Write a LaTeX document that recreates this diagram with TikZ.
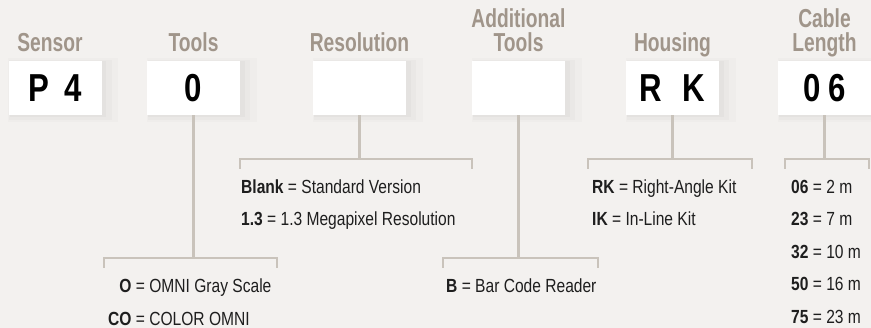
\documentclass[tikz,border=0pt]{standalone}
\usepackage{fontspec}
\newfontfamily\optfont{Liberation Sans}[FakeStretch=0.82]
\newfontfamily\headfont{Liberation Sans}[FakeStretch=0.74]
\newfontfamily\codefont{Liberation Sans}[FakeStretch=0.8]
\usetikzlibrary{positioning,shadows}
\definecolor{bggray}{HTML}{F3F1EF}
\definecolor{headgray}{HTML}{A0958A}
\definecolor{linegray}{HTML}{C9C3BB}
\definecolor{optblack}{HTML}{1E1E1E}
\tikzset{
  softshadow/.style={
    general shadow={fill=black,opacity=.025,shadow xshift=3pt,shadow yshift=-1pt,shadow scale=1.04},
    general shadow={fill=black,opacity=.02,shadow xshift=5pt,shadow yshift=-2pt,shadow scale=1.1},
    general shadow={fill=black,opacity=.015,shadow xshift=7pt,shadow yshift=-2pt,shadow scale=1.18}},
  codebox/.style={fill=white,minimum width=93pt,minimum height=54pt,inner sep=0pt,
    font=\codefont\bfseries\fontsize{39}{39}\selectfont,softshadow},
  head/.style={anchor=base,align=center,inner sep=0pt,text=headgray,
    font=\headfont\bfseries\fontsize{26}{24}\selectfont},
  link/.style={draw=linegray,line width=2.2pt},
  opt/.style={anchor=base west,inner sep=0pt,text=optblack,
    font=\optfont\fontsize{19}{23}\selectfont}
}

\begin{document}
\begin{tikzpicture}[x=1pt,y=-1pt]
\fill[bggray] (0,0) rectangle (871,328);
\useasboundingbox (0,0) rectangle (871,328);
% code boxes
\node[codebox] (sensor) at (55,88) {P\kern15pt 4};
\node[codebox] (tools) at (193.5,88) {0};
\node[codebox] (resolution) at (359.5,88) {};
\node[codebox] (addtools) at (518.5,88) {};
\node[codebox] (housing) at (672.5,88) {R\kern20pt K};
\node[codebox] (cable) at (824.5,88) {0\kern8pt 6};
% headings
\node[head,xshift=-5pt] (sensorlbl) at ([yshift=9pt]sensor.north) {Sensor};
\node[head] (toolslbl) at ([yshift=9pt]tools.north) {Tools};
\node[head] (resolutionlbl) at ([yshift=9pt]resolution.north) {Resolution};
\node[head] (addtoolslbl) at ([yshift=9pt]addtools.north) {Additional\\Tools};
\node[head] (housinglbl) at ([yshift=9pt]housing.north) {Housing};
\node[head] (cablelbl) at ([yshift=9pt]cable.north) {Cable\\Length};
% brackets
\coordinate (toolsL) at (104,258);
\coordinate (toolsR) at (277,258);
\coordinate (resolutionL) at (240,159);
\coordinate (resolutionR) at (472,159);
\coordinate (addtoolsL) at (443,258);
\coordinate (addtoolsR) at (598,258);
\coordinate (housingL) at (588,159);
\coordinate (housingR) at (752,159);
\coordinate (cableL) at (785,159);
\coordinate (cableR) at (869,159);
\draw[link] (tools.south) -- (tools.south |- toolsL);
\draw[link] ([yshift=-10pt]toolsL) -- (toolsL) -- (toolsR) -- ([yshift=-10pt]toolsR);
\draw[link] (resolution.south) -- (resolution.south |- resolutionL);
\draw[link] ([yshift=-10pt]resolutionL) -- (resolutionL) -- (resolutionR) -- ([yshift=-10pt]resolutionR);
\draw[link] (addtools.south) -- (addtools.south |- addtoolsL);
\draw[link] ([yshift=-10pt]addtoolsL) -- (addtoolsL) -- (addtoolsR) -- ([yshift=-10pt]addtoolsR);
\draw[link] (housing.south) -- (housing.south |- housingL);
\draw[link] ([yshift=-10pt]housingL) -- (housingL) -- (housingR) -- ([yshift=-10pt]housingR);
\draw[link] (cable.south) -- (cable.south |- cableL);
\draw[link] ([yshift=-10pt]cableL) -- (cableL) -- (cableR) -- ([yshift=-10pt]cableR);
% options
\node[opt] (toolsO) at (108,293) {\hphantom{\textbf{C}}\textbf{O} = OMNI Gray Scale};
\node[opt] (toolsCO) at (108,326) {\textbf{CO} = COLOR OMNI};
\node[opt] (resBlank) at (241,194) {\textbf{Blank} = Standard Version};
\node[opt] (resMP) at (241,226) {\textbf{1.3} = 1.3 Megapixel Resolution};
\node[opt] (addB) at (446,293) {\textbf{B} = Bar Code Reader};
\node[opt] (housingRK) at (592,194) {\textbf{RK} = Right-Angle Kit};
\node[opt] (housingIK) at (592,226) {\textbf{IK} = In-Line Kit};
\node[opt] (cable06) at (791,194) {\textbf{06} = 2 m};
\node[opt] (cable23) at (791,226) {\textbf{23} = 7 m};
\node[opt] (cable32) at (791,259) {\textbf{32} = 10 m};
\node[opt] (cable50) at (791,291) {\textbf{50} = 16 m};
\node[opt] (cable75) at (791,324) {\textbf{75} = 23 m};
\end{tikzpicture}
\end{document}
